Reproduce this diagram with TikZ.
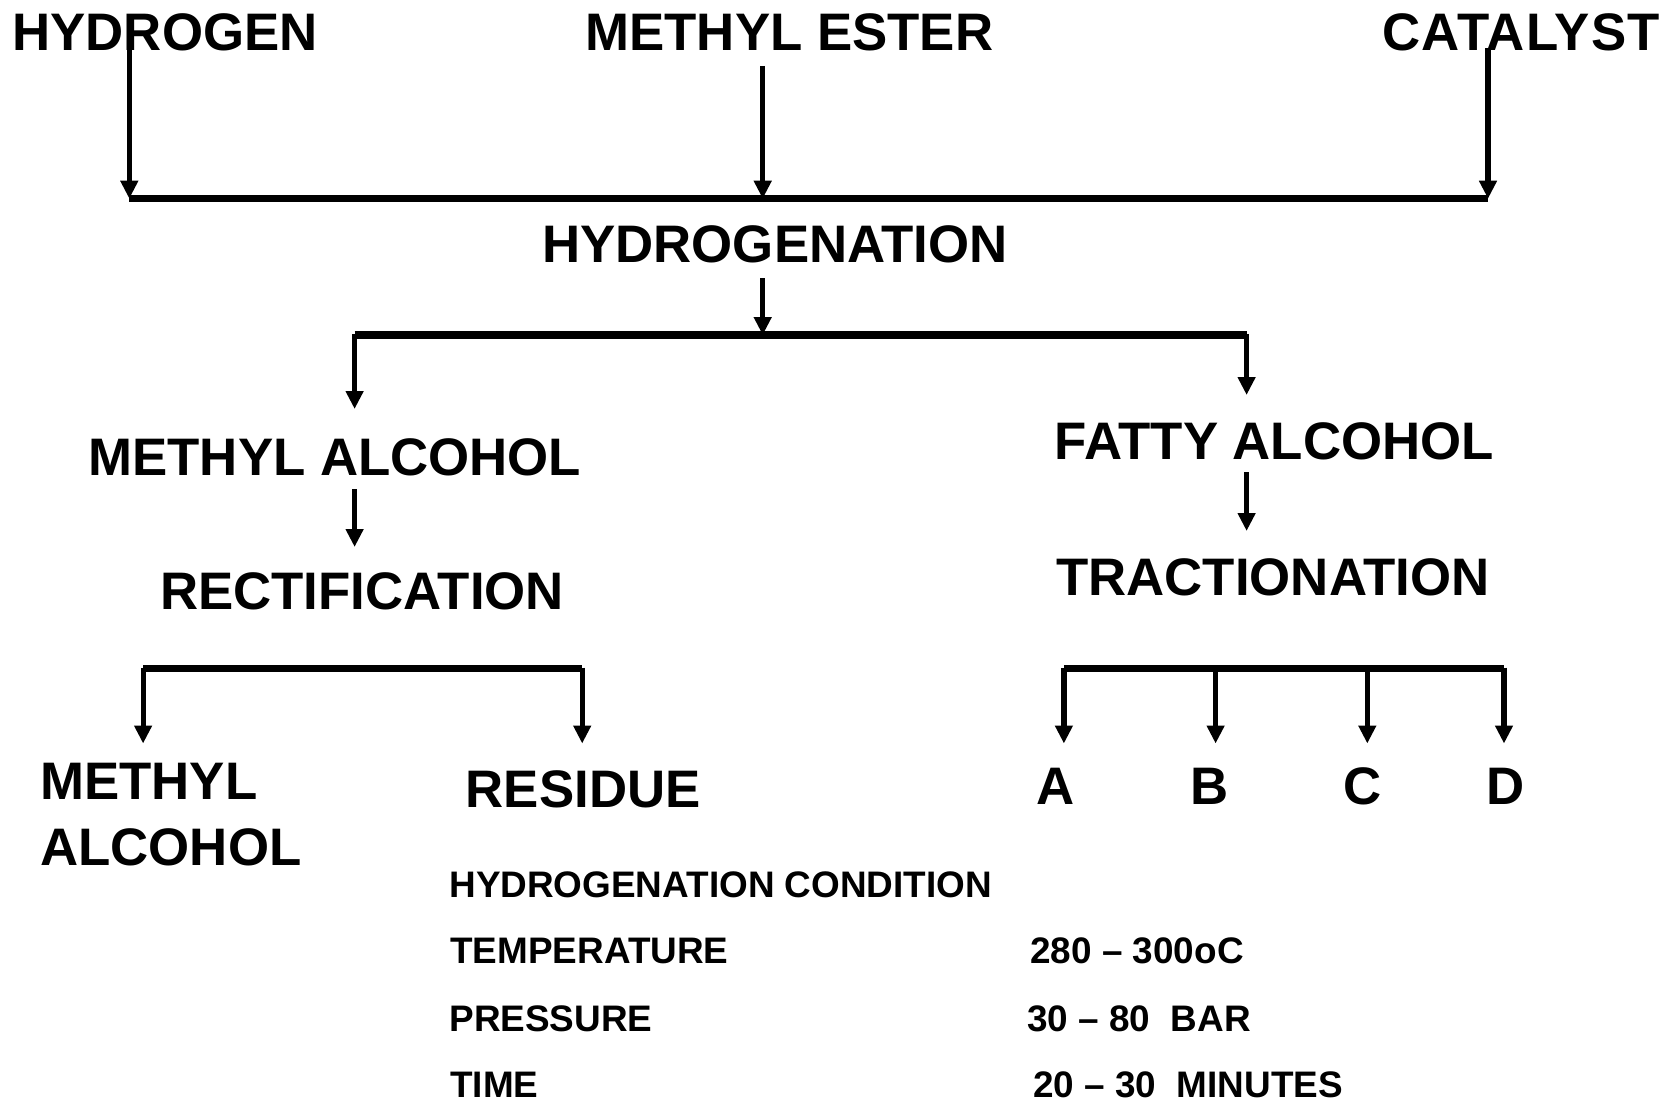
\documentclass[tikz,border=0pt]{standalone}
\usepackage{fontspec}
\setmainfont{Liberation Sans}
\usetikzlibrary{arrows.meta}
\begin{document}
\begin{tikzpicture}[x=0.5pt,y=-0.5pt,
  big/.style={font=\bfseries\fontsize{26.4}{30}\selectfont, inner sep=0pt, anchor=base},
  small/.style={font=\bfseries\fontsize{18.45}{22}\selectfont, inner sep=0pt, anchor=base west},
  arr/.style={line width=2.6pt, -{Triangle[length=9pt,width=8.5pt]}},
  bar/.style={line width=3.6pt}]
\useasboundingbox (0,0) rectangle (1675,1102);

% texts
\node[big] (hyd) at (165,51) {HYDROGEN};
\node[big] (mes) at (789.4,51) {METHYL ESTER};
\node[big] (cat) at (1521.1,51) {\addfontfeature{LetterSpace=2.5}CATALYST};
\node[big] (hgn) at (775,262.5) {HYDROGENATION};
\node[big] (mal) at (334.9,475) {METHYL ALCOHOL};
\node[big] (rec) at (362.1,609.6) {RECTIFICATION};
\node[big] (fal) at (1274.4,459) {FATTY ALCOHOL};
\node[big] (tra) at (1272.8,595.7) {TRACTIONATION};
\node[big, anchor=base west] (mal2) at (40,799.8) {METHYL};
\node[big, anchor=base west] (mal3) at (40,865) {ALCOHOL};
\node[big] (res) at (583.2,807) {RESIDUE};
\node[big] (pa) at (1055.4,804) {A};
\node[big] (pb) at (1209.2,804) {B};
\node[big] (pc) at (1363,804) {C};
\node[big] (pd) at (1505.1,804) {D};

\node[small] (cond) at (449,897.7) {HYDROGENATION CONDITION};
\node[small] (temp) at (450,963.9) {TEMPERATURE};
\node[small] (pres) at (449,1031.2) {PRESSURE};
\node[small] (time) at (450,1097.4) {TIME};
\node[small] (tv) at (1030,963.9) {280 – 300oC};
\node[small] (pv) at (1027,1031.2) {30 – 80\ \ BAR};
\node[small] (timv) at (1033,1097.4) {20 – 30\ \ MINUTES};

% coordinates
\coordinate (s1) at (129.3,48);
\coordinate (s2) at (762.7,66);
\coordinate (s3) at (1488,48);
\coordinate (b1a) at (129.3,198.7);
\coordinate (b1b) at (762.7,198.7);
\coordinate (b1c) at (1488,198.7);

\coordinate (s4) at (762.7,278);
\coordinate (b2m) at (762.7,335);
\coordinate (b2a) at (354.6,335);
\coordinate (b2c) at (1246.6,335);
\coordinate (t5) at (354.6,409);
\coordinate (t6) at (1246.6,395);

\coordinate (s7) at (354.6,489);
\coordinate (t7) at (354.6,547);
\coordinate (s8) at (1246.6,472);
\coordinate (t8) at (1246.6,531);

\coordinate (b3a) at (143.1,668.7);
\coordinate (b3c) at (582.2,668.7);
\coordinate (t3a) at (143.1,743.5);
\coordinate (t3c) at (582.2,743.5);

\coordinate (b4a) at (1063.9,668.7);
\coordinate (b4b) at (1215.6,668.7);
\coordinate (b4c) at (1367.3,668.7);
\coordinate (b4d) at (1504,668.7);
\coordinate (t4a) at (1063.9,743.5);
\coordinate (t4b) at (1215.6,743.5);
\coordinate (t4c) at (1367.3,743.5);
\coordinate (t4d) at (1504,743.5);

% connectors
\draw[arr] (s1) -- (b1a);
\draw[arr] (s2) -- (b1b);
\draw[arr] (s3) -- (b1c);
\draw[bar] (b1a) -- (b1c);

\draw[arr] (s4) -- (b2m);
\draw[bar] (b2a) -- (b2c);
\draw[arr] ([yshift=0.6pt]b2a) -- (t5);
\draw[arr] ([yshift=0.6pt]b2c) -- (t6);

\draw[arr] (s7) -- (t7);
\draw[arr] (s8) -- (t8);

\draw[bar] (b3a) -- (b3c);
\draw[arr] ([yshift=0.6pt]b3a) -- (t3a);
\draw[arr] ([yshift=0.6pt]b3c) -- (t3c);

\draw[bar] (b4a) -- (b4d);
\draw[arr] ([yshift=0.6pt]b4a) -- (t4a);
\draw[arr] ([yshift=0.6pt]b4b) -- (t4b);
\draw[arr] ([yshift=0.6pt]b4c) -- (t4c);
\draw[arr] ([yshift=0.6pt]b4d) -- (t4d);
\end{tikzpicture}
\end{document}
